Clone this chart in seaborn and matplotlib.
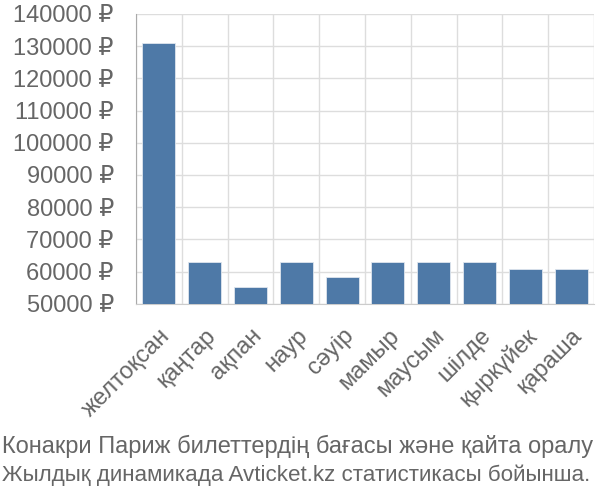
import matplotlib
matplotlib.use("Agg")
import matplotlib.pyplot as plt
from matplotlib.ticker import FuncFormatter, FixedLocator
import seaborn as sns
import numpy as np

months = ["желтоқсан", "қаңтар", "ақпан", "наур", "сәуір",
          "мамыр", "маусым", "шілде", "қыркүйек", "қараша"]
prices = [131100, 62900, 55300, 62900, 58200, 63000, 62900, 62800, 60900, 60700]
y_ticks = list(range(50000, 140001, 10000))
caption = ["Конакри Париж билеттердің бағасы және қайта оралу",
           "Жылдық динамикада Avticket.kz статистикасы бойынша."]

sns.set_style("white")
plt.rcParams["font.family"] = ["Liberation Sans", "DejaVu Sans"]

fig = plt.figure(figsize=(6, 5), dpi=100)
ax = fig.add_axes([136 / 600, 1 - 303.7 / 500, 458 / 600, (303.7 - 14) / 500])

sns.barplot(x=months, y=prices, color="#4e79a7", width=0.72,
            edgecolor="#dfe6ee", linewidth=0.6, saturation=1, ax=ax, zorder=3)

ax.set_ylim(50000, 140000)
ax.set_xlim(-0.5, len(months) - 0.5)
ax.yaxis.set_major_locator(FixedLocator(y_ticks))
ax.yaxis.set_major_formatter(FuncFormatter(lambda v, p: f"{int(v)} ₽"))

# boundaries between categories carry the grid, centers carry the labels
bounds = np.arange(-0.5, len(months), 1.0)
ax.set_xticks(bounds)
ax.set_xticklabels([""] * len(bounds))
ax.set_xticks(range(len(months)), minor=True)
ax.set_xticklabels(months, minor=True, rotation=45, ha="right",
                   rotation_mode="anchor", fontsize=17, color="#666666")
ax.tick_params(axis="x", which="minor", length=0, pad=15)
ax.tick_params(axis="x", which="major", length=14, color="#dddddd", width=1)
ax.tick_params(axis="y", length=14, color="#dddddd", width=1,
               labelsize=17, labelcolor="#666666", pad=2)

ax.grid(True, which="major", color="#dddddd", linewidth=1, zorder=0)
ax.set_axisbelow(True)
for s in ["top", "right"]:
    ax.spines[s].set_visible(False)
ax.spines["left"].set_color("#aaaaaa")
ax.spines["bottom"].set_color("#cccccc")
ax.set_xlabel("")
ax.set_ylabel("")

fig.text(0.003, 1 - 446 / 500, caption[0], fontsize=17, color="#666666", va="center")
fig.text(0.003, 1 - 475 / 500, caption[1], fontsize=16.1, color="#666666", va="center")

fig.savefig("out.png", dpi=100)
